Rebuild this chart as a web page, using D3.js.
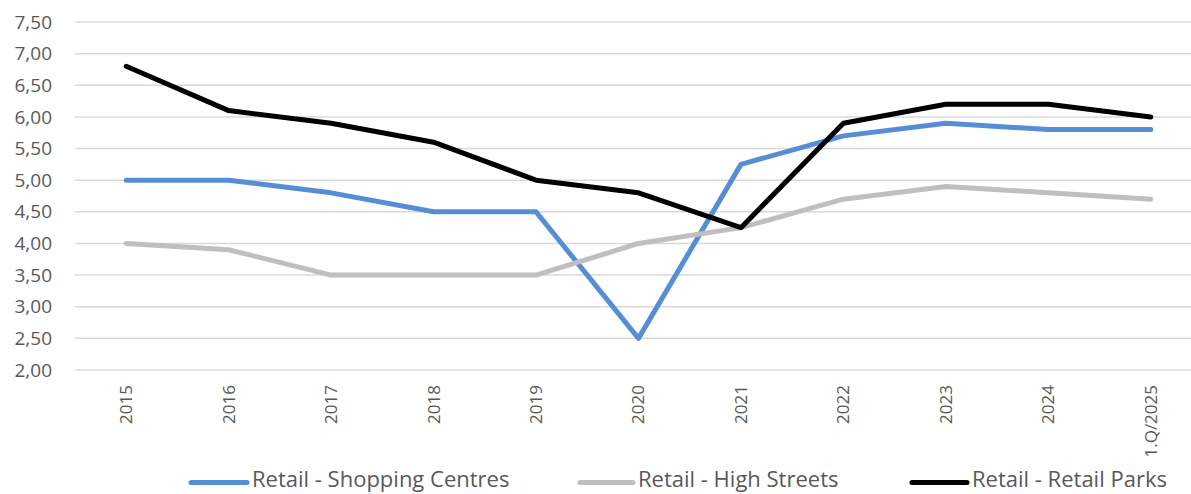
<!DOCTYPE html>
<html><head><meta charset="utf-8">
<script src="https://cdn.jsdelivr.net/npm/d3@7"></script>
<style>body{margin:0;background:#fff;overflow:hidden}svg{display:block}</style>
</head><body>
<script>
const categories = ["2015","2016","2017","2018","2019","2020","2021","2022","2023","2024","1.Q/2025"];
const shoppingCentres = [5.00,5.00,4.80,4.50,4.50,2.50,5.25,5.70,5.90,5.80,5.80];
const highStreets = [4.00,3.90,3.50,3.50,3.50,4.00,4.25,4.70,4.90,4.80,4.70];
const retailParks = [6.80,6.10,5.90,5.60,5.00,4.80,4.25,5.90,6.20,6.20,6.00];
const seriesNames = ["Retail - Shopping Centres","Retail - High Streets","Retail - Retail Parks"];
const yTicks = [2.0,2.5,3.0,3.5,4.0,4.5,5.0,5.5,6.0,6.5,7.0,7.5];

const W = 1191, H = 494;
const svg = d3.select("body").append("svg").attr("width", W).attr("height", H);
const font = "'Open Sans', sans-serif";

const x = d3.scaleBand().domain(categories).range([75, 1202]);
const y = d3.scaleLinear().domain([2, 7.5]).range([370, 22]);

// gridlines
svg.append("g").selectAll("line").data(yTicks).join("line")
  .attr("x1", 75).attr("x2", 1202)
  .attr("y1", d => y(d)).attr("y2", d => y(d))
  .attr("stroke", "#d9d9d9").attr("stroke-width", 1.5);

// y axis labels
const yAxis = d3.axisLeft(y).tickValues(yTicks).tickSize(0).tickPadding(0)
  .tickFormat(d => d3.format(".2f")(d).replace(".", ","));
const ga = svg.append("g").attr("transform", "translate(52,0)").call(yAxis);
ga.select(".domain").remove();
ga.selectAll("text").attr("font-family", font).attr("font-size", 19).attr("fill", "#595959");

// x axis labels
const xAxis = d3.axisBottom(x).tickSize(0).tickPadding(0);
const gx = svg.append("g").attr("transform", "translate(0,385)").call(xAxis);
gx.select(".domain").remove();
gx.selectAll("text")
  .attr("font-family", font).attr("font-size", 17).attr("fill", "#595959")
  .attr("transform", "rotate(-90)")
  .attr("text-anchor", "end").attr("dy", "0.35em").attr("x", 0).attr("y", 0);

const series = [
  {name: seriesNames[0], values: shoppingCentres, color: "#558ed5"},
  {name: seriesNames[1], values: highStreets, color: "#bfbfbf"},
  {name: seriesNames[2], values: retailParks, color: "#000000"}
];
const line = d3.line().x((d, i) => x(categories[i]) + x.bandwidth() / 2).y(d => y(d));
svg.append("g").selectAll("path").data(series).join("path")
  .attr("d", d => line(d.values))
  .attr("fill", "none").attr("stroke", d => d.color)
  .attr("stroke-width", 5).attr("stroke-linejoin", "round").attr("stroke-linecap", "round");

// legend
const legendX = [191, 580, 912];
const legendLen = [56, 53, 55];
const lg = svg.append("g").selectAll("g").data(series).join("g")
  .attr("transform", (d, i) => `translate(${legendX[i]},482.5)`);
lg.append("line").attr("x1", 0).attr("x2", (d, i) => legendLen[i]).attr("y1", 0).attr("y2", 0)
  .attr("stroke", d => d.color).attr("stroke-width", 5).attr("stroke-linecap", "round");
lg.append("text").attr("x", (d, i) => legendLen[i] + 5).attr("y", 4.5)
  .attr("font-family", font).attr("font-size", 22).attr("fill", "#595959")
  .text(d => d.name);
</script>
</body></html>
